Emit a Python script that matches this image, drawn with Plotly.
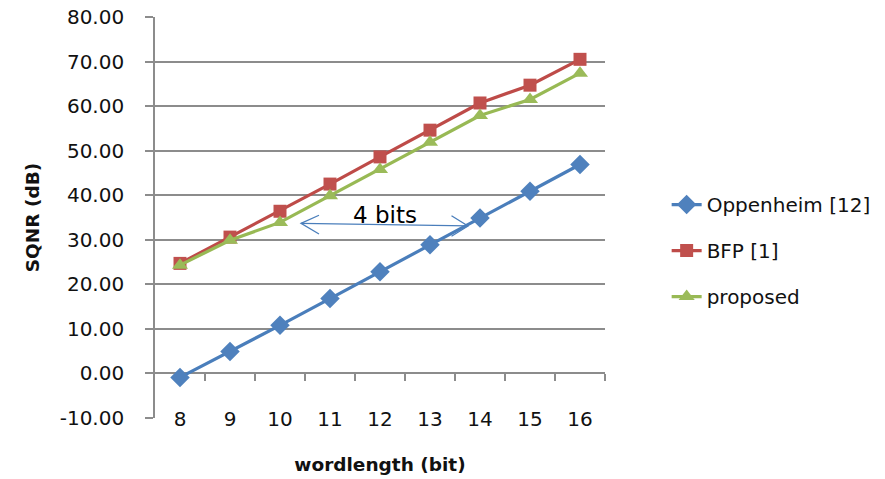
import plotly.graph_objects as go

# Wordlength sweep (bits) and measured SQNR in dB
wordlength = [8, 9, 10, 11, 12, 13, 14, 15, 16]
oppenheim = [-0.9, 4.9, 10.8, 16.8, 22.8, 28.9, 34.9, 40.9, 46.9]
bfp = [24.7, 30.6, 36.4, 42.5, 48.6, 54.6, 60.7, 64.7, 70.5]
proposed = [24.3, 29.9, 33.9, 39.9, 45.8, 51.9, 57.9, 61.5, 67.4]

y_ticks = [-10, 0, 10, 20, 30, 40, 50, 60, 70, 80]
y_labels = [f"{v:.2f}" for v in y_ticks]
boundaries = [w + 0.5 for w in wordlength]

FONT = "DejaVu Sans"
GRID = "#8c8c8c"
TEXT = "#111111"

series = [
    ("Oppenheim [12]", oppenheim, "#4A7EBB", "#4F81BD", "diamond", 15),
    ("BFP [1]", bfp, "#BE4B48", "#C0504D", "square", 13),
    ("proposed", proposed, "#98B954", "#9BBB59", "triangle-up", 14),
]

fig = go.Figure()
for i, (name, vals, lc, mc, sym, sz) in enumerate(series):
    fig.add_trace(go.Scatter(
        x=wordlength, y=vals, name=name, mode="lines+markers",
        line=dict(color=lc, width=3.2),
        marker=dict(symbol=sym, size=sz, color=mc, line=dict(width=0)),
        legendgroup=f"g{i}",
    ))

# empty trace that carries the horizontal axis drawn through y = 0
fig.add_trace(go.Scatter(x=[], y=[], xaxis="x2", showlegend=False, hoverinfo="skip"))

# double-headed "4 bits" arrow between the BFP/proposed curves and Oppenheim
arrow_color = "#4A7EBB"
left_tip, right_tip = (10.42, 33.7), (13.76, 33.1)
fig.add_shape(type="line", xref="x", yref="y",
              x0=left_tip[0], y0=left_tip[1], x1=right_tip[0], y1=right_tip[1],
              line=dict(color=arrow_color, width=1.3))
fig.add_shape(type="path", xref="x", yref="y",
              path=f"M 10.78,35.5 L {left_tip[0]},{left_tip[1]} L 10.78,31.3",
              line=dict(color=arrow_color, width=1.3))
fig.add_shape(type="path", xref="x", yref="y",
              path=f"M 13.43,35.4 L {right_tip[0]},{right_tip[1]} L 13.43,30.8",
              line=dict(color=arrow_color, width=1.3))
fig.add_annotation(x=12.1, y=35.6, xref="x", yref="y", text="4 bits",
                   showarrow=False, font=dict(family=FONT, size=23, color="#000000"))

fig.update_layout(
    width=885, height=479,
    margin=dict(l=155, r=280, t=17, b=61, autoexpand=False),
    paper_bgcolor="white", plot_bgcolor="white",
    font=dict(family=FONT, color=TEXT),
    showlegend=True,
    legend=dict(x=1.137, y=0.4175, xanchor="left", yanchor="middle",
                font=dict(family=FONT, size=20, color=TEXT),
                tracegroupgap=17, bgcolor="rgba(0,0,0,0)"),
    xaxis=dict(
        range=[7.5, 16.5], tickvals=wordlength, ticktext=[str(w) for w in wordlength],
        showgrid=False, zeroline=False, showline=False, ticks="",
        tickfont=dict(family=FONT, size=20, color=TEXT),
        ticklabelstandoff=-13, automargin=False,
        title=dict(text="<b>wordlength (bit)</b>", font=dict(family=FONT, size=18.5, color=TEXT),
                   standoff=28),
    ),
    xaxis2=dict(
        overlaying="x", anchor="free", position=1 / 9, side="bottom",
        range=[7.5, 16.5], tickvals=boundaries, showticklabels=False,
        showgrid=False, zeroline=False, showline=True, linecolor=GRID, linewidth=2,
        ticks="outside", ticklen=7, tickwidth=1.5, tickcolor=GRID, layer="below traces",
        automargin=False,
    ),
    yaxis=dict(
        range=[-10, 80], tickvals=y_ticks, ticktext=y_labels,
        showgrid=True, gridcolor=GRID, gridwidth=1.6,
        zeroline=False, showline=True, linecolor=GRID, linewidth=1.6,
        ticks="outside", ticklen=8, tickwidth=1.5, tickcolor=GRID,
        tickfont=dict(family=FONT, size=20, color=TEXT),
        ticklabelstandoff=17, automargin=False,
        title=dict(text="<b>SQNR (dB)</b>", font=dict(family=FONT, size=18.5, color=TEXT),
                   standoff=15),
    ),
)

fig.write_html("out.html")
